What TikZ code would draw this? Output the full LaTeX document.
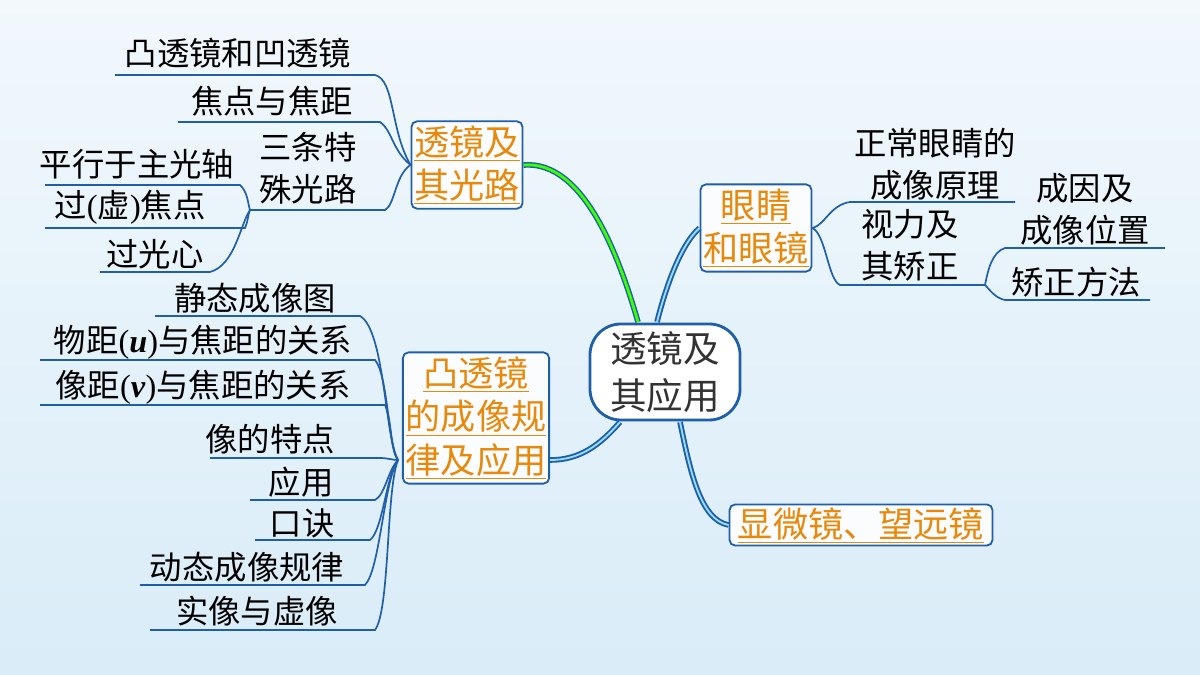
\documentclass[tikz,border=0pt]{standalone}
\usepackage{fontspec}
\setmainfont{Noto Sans CJK SC}
\newfontfamily\latinf{Liberation Serif}
\usetikzlibrary{positioning}
\definecolor{lineblue}{HTML}{1F5FA8}
\definecolor{txtorange}{HTML}{E8890C}
\definecolor{bgtop}{HTML}{F2F8FC}
\definecolor{bgbot}{HTML}{D9ECF8}
\tikzset{
  leaf/.style={font=\fontsize{23}{30}\selectfont, inner sep=0pt, align=center},
  branch/.style={draw=lineblue, line width=1.3pt, fill=white!60!bgtop, rounded corners=4pt,
    font=\fontsize{25}{31}\selectfont, text=txtorange, align=center, inner xsep=2pt, inner ysep=3pt},
  uline/.style={draw=lineblue, line width=1.2pt},
  trunk/.style={draw=lineblue, line width=4pt},
  core/.style={line width=1.3pt, draw=cyan!40}
}
\newcommand{\ul}[1]{\underline{#1}}
\begin{document}
\begin{tikzpicture}[x=0.025cm,y=-0.025cm]
\shade[top color=bgtop, bottom color=bgbot] (0,0) rectangle (1200,675);
\useasboundingbox (0,0) rectangle (1200,675);

% centre
\node[draw=lineblue, line width=2pt, fill=white, rounded corners=22pt, minimum width=3.75cm,
  minimum height=2.4cm, text=black!80, font=\fontsize{26}{33}\selectfont, align=center]
  (root) at (665,372) {透镜及\\其应用};

% branches
\node[branch] (lens) at (467,165) {\ul{透镜及}\\\ul{其光路}};
\node[branch] (convex) at (476,418) {\ul{凸透镜}\\\ul{的成像规}\\\ul{律及应用}};
\node[branch] (eye) at (756,228) {\ul{眼睛}\\\ul{和眼镜}};
\node[branch, inner xsep=6pt, inner ysep=2pt] (scope) at (861,525) {\ul{显微镜、望远镜}};

% trunks
\draw[trunk] (lens.east) .. controls (585,160) and (620,260) .. (638,322);
\draw[draw=green!70!lime, line width=2pt] (lens.east) .. controls (585,160) and (620,260) .. (638,322);
\draw[trunk] (657,322) .. controls (665,290) and (680,245) .. (eye.west);
\draw[core] (657,322) .. controls (665,290) and (680,245) .. (eye.west);
\draw[trunk] (620,422) .. controls (600,445) and (580,460) .. (convex.east |- 0,460);
\draw[core] (620,422) .. controls (600,445) and (580,460) .. (convex.east |- 0,460);
\draw[trunk] (680,422) .. controls (690,470) and (700,520) .. (scope.west);
\draw[core] (680,422) .. controls (690,470) and (700,520) .. (scope.west);

% leaves of lens
\node[leaf] (a1) at (238,53) {凸透镜和凹透镜};
\node[leaf] (a2) at (272,101) {焦点与焦距};
\node[leaf] (a3) at (308,168) {三条特\\殊光路};
\node[leaf] (b1) at (137,164) {平行于主光轴};
\node[leaf] (b2) at (130,207) {过{\latinf(}虚{\latinf)}焦点};
\node[leaf] (b3) at (155,254) {过光心};
\draw[uline] (115,75) -- (375,75) .. controls (395,80) and (390,130) .. (lens.west);
\draw[uline] (178,122) -- (380,122) .. controls (392,130) and (392,150) .. (lens.west);
\draw[uline] (250,210) -- (385,210) .. controls (395,205) and (395,175) .. (lens.west);
\draw[uline] (45,185) -- (240,185) .. controls (248,192) and (248,205) .. (250,210);
\draw[uline] (45,228) -- (245,228) .. controls (248,222) and (248,214) .. (250,210);
\draw[uline] (100,272) -- (210,272) .. controls (235,265) and (240,225) .. (250,210);

% leaves of convex lens
\node[leaf] (c1) at (255,298) {静态成像图};
\node[leaf] (c2) at (203,342) {物距{\latinf(\textbf{\textit{u}})}与焦距的关系};
\node[leaf] (c3) at (203,387) {像距{\latinf(\textbf{\textit{v}})}与焦距的关系};
\node[leaf] (c4) at (270,439) {像的特点};
\node[leaf] (c5) at (301,482) {应用};
\node[leaf] (c6) at (302,523) {口诀};
\node[leaf] (c7) at (247,567) {动态成像规律};
\node[leaf] (c8) at (257,611) {实像与虚像};
\coordinate (cj) at (398,460);
\draw[uline] (155,316) -- (360,316) .. controls (385,330) and (385,440) .. (cj);
\draw[uline] (40,360) -- (375,360) .. controls (388,375) and (388,445) .. (cj);
\draw[uline] (40,405) -- (385,405) .. controls (392,420) and (390,450) .. (cj);
\draw[uline] (210,458) -- (380,458) .. controls (388,458) and (392,460) .. (cj);
\draw[uline] (250,500) -- (375,500) .. controls (385,495) and (388,470) .. (cj);
\draw[uline] (255,540) -- (370,540) .. controls (383,530) and (386,475) .. (cj);
\draw[uline] (140,585) -- (365,585) .. controls (380,570) and (384,480) .. (cj);
\draw[uline] (150,630) -- (375,630) .. controls (390,610) and (386,490) .. (cj);

% leaves of eye
\node[leaf] (d1) at (935,164) {正常眼睛的\\成像原理};
\node[leaf] (d2) at (910,245) {视力及\\其矫正};
\node[leaf] (e1) at (1085,209) {成因及\\成像位置};
\node[leaf] (e2) at (1076,282) {矫正方法};
\draw[uline] (1015,202) -- (850,202) .. controls (830,205) and (825,225) .. (eye.east);
\draw[uline] (985,285) -- (840,285) .. controls (828,280) and (826,235) .. (eye.east);
\draw[uline] (1165,248) -- (1005,248) .. controls (992,252) and (988,270) .. (985,285);
\draw[uline] (1150,300) -- (1005,300) .. controls (995,298) and (990,290) .. (985,285);
\end{tikzpicture}
\end{document}
